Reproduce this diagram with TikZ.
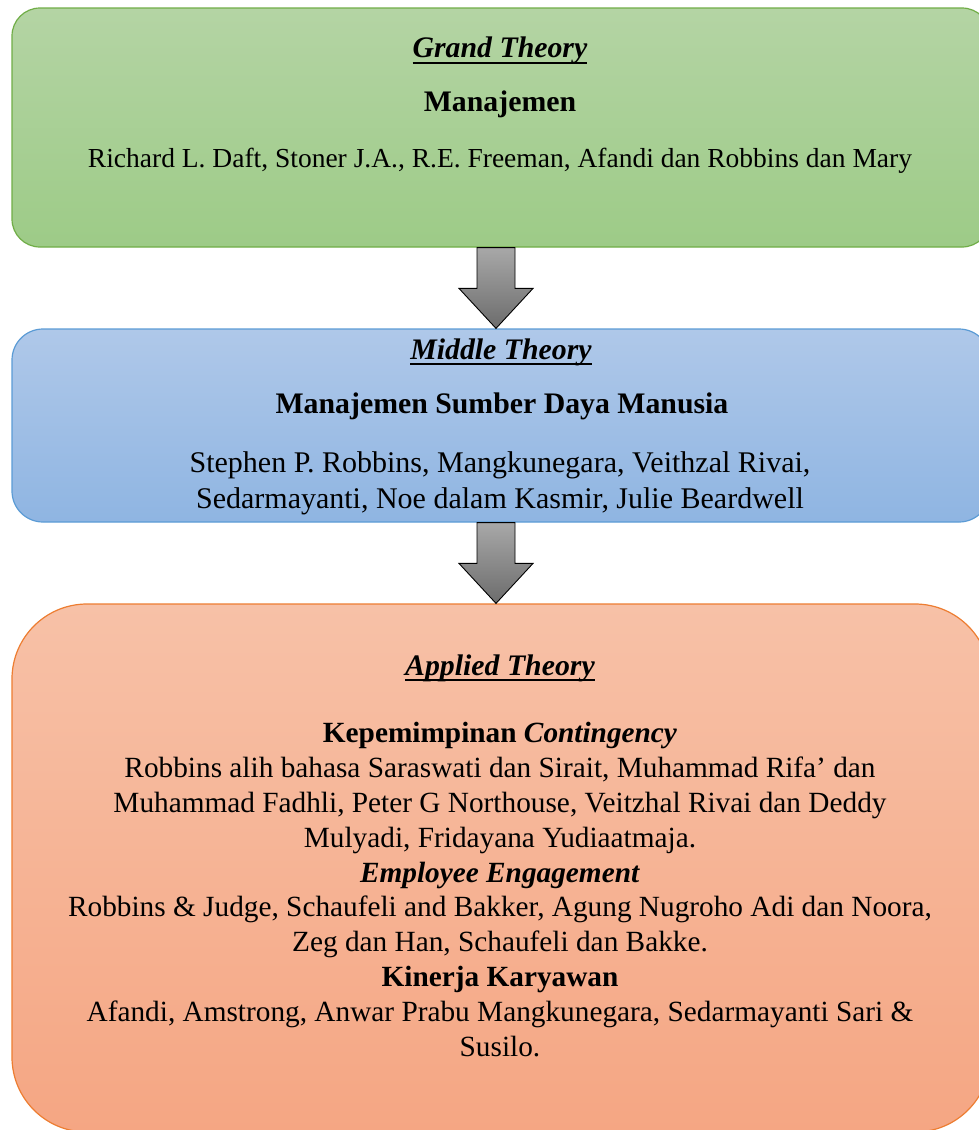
\documentclass[tikz,border=0pt]{standalone}
\usepackage{fontspec}
\setmainfont{Liberation Serif}
\usetikzlibrary{calc,positioning}

\definecolor{greentop}{RGB}{180,212,164}
\definecolor{greenbot}{RGB}{157,203,135}
\definecolor{greenline}{RGB}{112,173,71}
\definecolor{bluetop}{RGB}{175,200,233}
\definecolor{bluebot}{RGB}{143,181,226}
\definecolor{blueline}{RGB}{91,155,213}
\definecolor{orangetop}{RGB}{247,193,167}
\definecolor{orangebot}{RGB}{245,166,131}
\definecolor{orangeline}{RGB}{237,125,49}
\definecolor{arrowtop}{RGB}{168,168,168}
\definecolor{arrowbot}{RGB}{108,108,108}

% bold italic heading with a thick underline
\newsavebox{\headbox}
\newcommand{\theoryhead}[1]{\sbox{\headbox}{\textbf{\textit{#1}}}%
  \rlap{\usebox{\headbox}}\rule[-6.4pt]{\wd\headbox}{2.2pt}}
% block arrow from the bottom of one box to the top of the next
\newcommand{\flowarrow}[2]{%
  \shade[top color=arrowtop, bottom color=arrowbot, draw=black, line width=0.9pt]
    ($(#1.south)+(-24,0)$) -- ($(#1.south)+(14,0)$) --
    ($(#2.north)+(14,-40)$) -- ($(#2.north)+(32,-40)$) --
    ($(#2.north)+(-5,0)$) --
    ($(#2.north)+(-42,-40)$) -- ($(#2.north)+(-24,-40)$) -- cycle;
}

\tikzset{
  theorybox/.style={line width=1.2pt, minimum width=978pt, inner sep=0pt},
  txt/.style={anchor=base, inner sep=0pt, align=center,
    font=\fontsize{29.8}{35}\selectfont},
}

\begin{document}
\begin{tikzpicture}[x=1pt,y=-1pt]
    \useasboundingbox (0,0) rectangle (979,1130);
    \clip (0,0) rectangle (979,1130);

    % Boxes
    \node[theorybox, draw=greenline, top color=greentop, bottom color=greenbot,
      rounded corners=28pt, minimum height=239pt] (grand) at (501,127.5) {};
    \node[theorybox, draw=blueline, top color=bluetop, bottom color=bluebot,
      rounded corners=31pt, minimum height=193pt] (middle) at (501,425.5) {};
    \node[theorybox, draw=orangeline, top color=orangetop, bottom color=orangebot,
      rounded corners=75pt, minimum height=528pt] (applied) at (501,868) {};

    % Arrows
    \flowarrow{grand}{middle}
    \flowarrow{middle}{applied}

    % Grand theory
    \node[txt] (gtitle) at (500,57.7) {\theoryhead{Grand Theory}};
    \node[txt] (gname) at (500,111.7) {\textbf{Manajemen}};
    \node[txt, font=\fontsize{27.5}{33}\selectfont] (gref) at (500,167.7)
      {Richard L. Daft, Stoner J.A., R.E. Freeman, Afandi dan Robbins dan Mary};

    % Middle theory
    \node[txt] (mtitle) at (501,359) {\theoryhead{Middle Theory}};
    \node[txt] (mname) at (502,413) {\textbf{Manajemen Sumber Daya Manusia}};
    \node[txt, font=\fontsize{30}{35.3}\selectfont] (mref) at (500,508)
      {Stephen P. Robbins, Mangkunegara, Veithzal Rivai,\\
      Sedarmayanti, Noe dalam Kasmir, Julie Beardwell};

    % Applied theory
    \node[txt] (atitle) at (500,675) {\theoryhead{Applied Theory}};
    \node[txt, font=\fontsize{29.3}{34.9}\selectfont] (aref) at (500,1056.5)
      {\textbf{Kepemimpinan \textit{Contingency}}\\
      Robbins alih bahasa Saraswati dan Sirait, Muhammad Rifa’ dan\\
      Muhammad Fadhli, Peter G Northouse, Veitzhal Rivai dan Deddy\\
      Mulyadi, Fridayana Yudiaatmaja.\\
      \textbf{\textit{Employee Engagement}}\\
      Robbins \& Judge, Schaufeli and Bakker, Agung Nugroho Adi dan Noora,\\
      Zeg dan Han, Schaufeli dan Bakke.\\
      \textbf{Kinerja Karyawan}\\
      Afandi, Amstrong, Anwar Prabu Mangkunegara, Sedarmayanti Sari \&\\
      Susilo.};
\end{tikzpicture}
\end{document}
